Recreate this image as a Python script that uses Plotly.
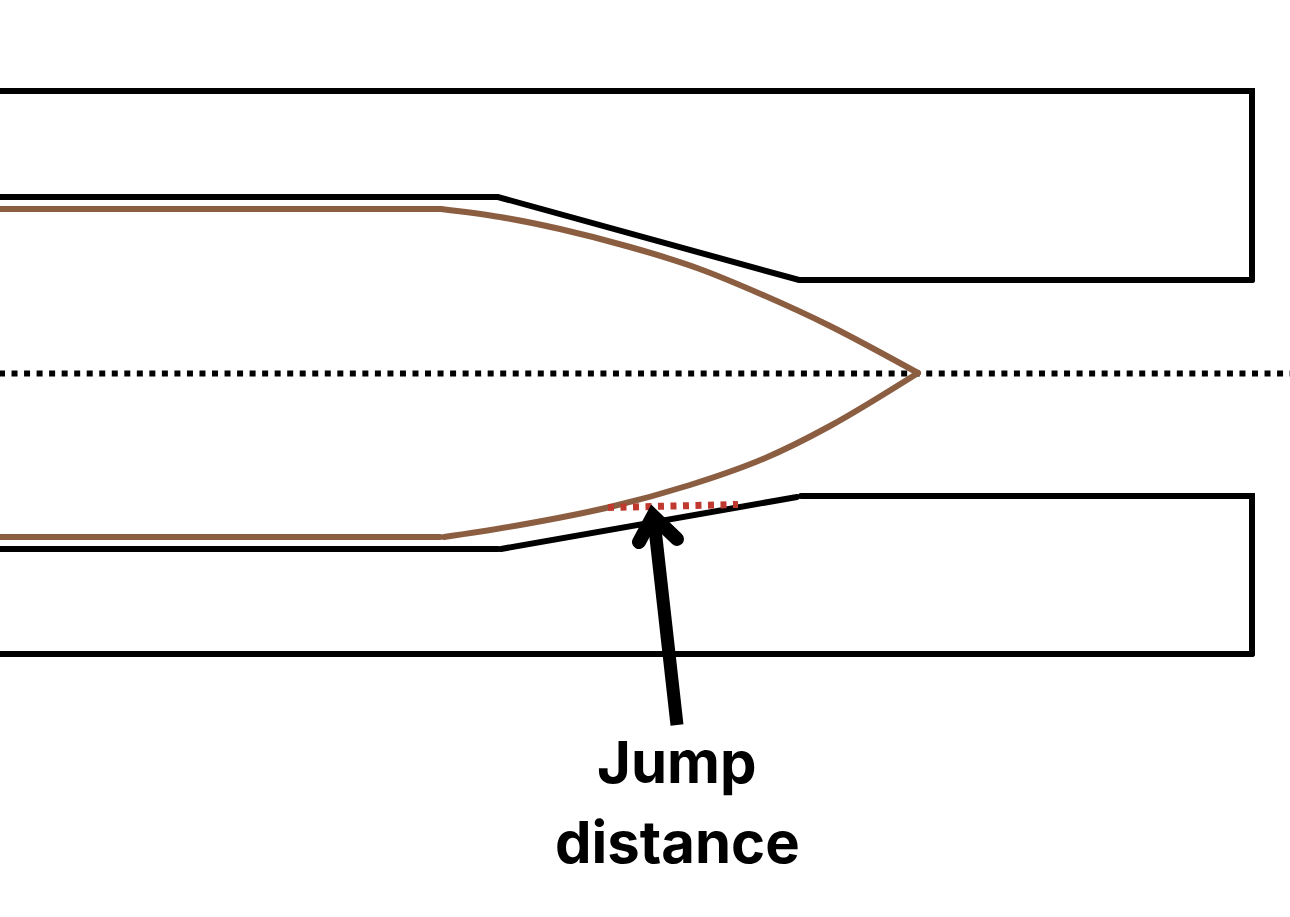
import plotly.graph_objects as go

# everything, in pixels (y goes down)
outer_top_x = [0, 1252, 1252, 1252]
outer_top_y = [91, 91, 91, 280]
inner_top_x = [0, 498, 799, 1252]
inner_top_y = [197, 197, 280, 280]
inner_bot_x = [0, 498]
inner_bot_y = [549, 549]
ramp_bot_x = [501, 797]
ramp_bot_y = [549, 497]
step_bot_x = [801, 1252, 1252]
step_bot_y = [496, 496, 654]
outer_bot_x = [0, 1252]
outer_bot_y = [654, 654]

axis_x = [-1, 1290]
axis_y = [373.5, 373.5]

jet_top_flat_x = [0, 441]
jet_top_flat_y = [209, 209]
jet_top_x = [441, 500, 560, 630, 697, 763, 830, 918]
jet_top_y = [209, 217, 229, 247, 268, 295, 326, 373]
jet_bot_flat_x = [0, 440]
jet_bot_flat_y = [537, 537]
jet_bot_x = [444, 520, 610, 690, 763, 830, 918]
jet_bot_y = [537, 525, 507, 485, 459, 426, 373]

jump_x = [608, 738]
jump_y = [507.5, 504.5]

shaft_x = [677, 654]
shaft_y = [725, 520]
head_x = [639, 653, 677]
head_y = [542, 516, 539]

BLACK = "#000000"
BROWN = "#8b5e42"
RED = "#c0392f"

fig = go.Figure()


def add_line(x, y, color, width, dash="solid", shape="linear"):
    fig.add_trace(go.Scatter(x=x, y=y, mode="lines", hoverinfo="skip",
                             line=dict(color=color, width=width, dash=dash, shape=shape)))


add_line(axis_x, axis_y, BLACK, 6, "6px,6.53px")
add_line(outer_top_x, outer_top_y, BLACK, 6)
add_line(inner_top_x, inner_top_y, BLACK, 6)
add_line(inner_bot_x, inner_bot_y, BLACK, 6)
add_line(ramp_bot_x, ramp_bot_y, BLACK, 6)
add_line(step_bot_x, step_bot_y, BLACK, 6)
add_line(outer_bot_x, outer_bot_y, BLACK, 6)
add_line(jet_top_flat_x, jet_top_flat_y, BROWN, 6)
add_line(jet_bot_flat_x, jet_bot_flat_y, BROWN, 6)
add_line(jet_top_x, jet_top_y, BROWN, 6, shape="spline")
add_line(jet_bot_x, jet_bot_y, BROWN, 6, shape="spline")
add_line(jump_x, jump_y, RED, 7, "6px,6.5px")
add_line(shaft_x, shaft_y, BLACK, 13)
add_line(head_x, head_y, BLACK, 14)

fig.add_annotation(x=677, y=762, text="<b>Jump</b>", showarrow=False,
                   font=dict(family="Inter", size=58, color=BLACK))
fig.add_annotation(x=677, y=842, text="<b>distance</b>", showarrow=False,
                   font=dict(family="Inter", size=58, color=BLACK))

fig.update_xaxes(range=[0, 1290], visible=False)
fig.update_yaxes(range=[917, 0], visible=False)
fig.update_layout(width=1290, height=917, margin=dict(l=0, r=0, t=0, b=0),
                  showlegend=False, plot_bgcolor="white", paper_bgcolor="white")

# round line ends like the drawing (not the shaft or dotted lines), and drop the page margin
fig.write_html("out.html", config=dict(displayModeBar=False), post_script="""
document.body.style.margin = 0;
document.querySelectorAll('.scatterlayer path.js-line').forEach(function (p) {
  var dashed = p.style.strokeDasharray && p.style.strokeDasharray !== 'none';
  var shaft = parseFloat(p.style.strokeWidth) === 13;
  p.style.strokeLinecap = dashed || shaft ? 'butt' : 'round';
});
""")
